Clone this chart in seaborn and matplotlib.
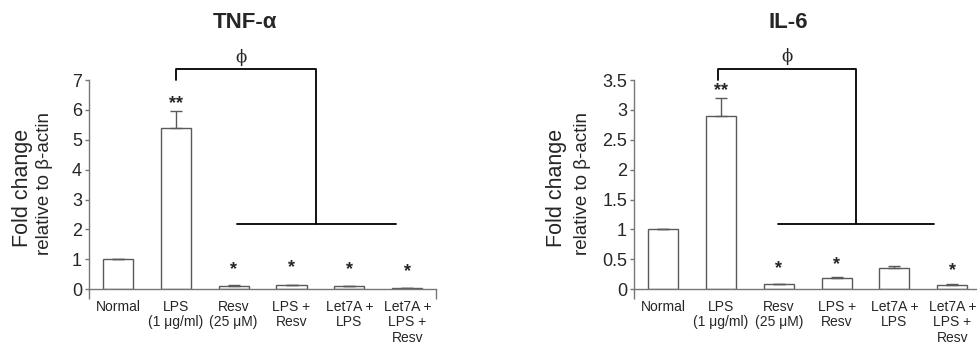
import numpy as np
import pandas as pd
import seaborn as sns
import matplotlib.pyplot as plt

# Data
groups = ['Normal', 'LPS\n(1 μg/ml)', 'Resv\n(25 μM)', 'LPS +\nResv',
          'Let7A +\nLPS', 'Let7A +\nLPS +\nResv']
tnf_mean = [1.0, 5.4, 0.1, 0.15, 0.1, 0.05]
tnf_err = [0.0, 0.55, 0.03, 0.0, 0.0, 0.0]
il6_mean = [1.0, 2.9, 0.08, 0.18, 0.35, 0.07]
il6_err = [0.0, 0.3, 0.0, 0.015, 0.03, 0.01]
tnf_stars = ['', '**', '*', '*', '*', '*']
il6_stars = ['', '**', '*', '*', '', '*']
tnf_star_y = [0, 6.2, 0.66, 0.72, 0.66, 0.6]
il6_star_y = [0, 3.33, 0.34, 0.41, 0, 0.31]

sns.set_style('white')
plt.rcParams['font.family'] = ['Liberation Sans', 'DejaVu Sans']

fig = plt.figure(figsize=(9.78, 3.47), dpi=100)
ax1 = fig.add_axes([0.091, 0.167, 0.355, 0.602])
ax2 = fig.add_axes([0.6483, 0.167, 0.355, 0.602])

edge = '#5a5a5a'


def draw_panel(ax, mean, err, stars, star_y, ymax, yticks, ticklabels):
    df = pd.DataFrame({'group': groups, 'value': mean})
    sns.barplot(data=df, x='group', y='value', color='white', edgecolor=edge,
                linewidth=1.0, width=0.52, errorbar=None, ax=ax)
    # upper error bars only
    x = np.arange(len(groups))
    ax.errorbar(x, mean, yerr=[np.zeros(len(err)), err], fmt='none',
                ecolor=edge, elinewidth=1.0, capsize=4, capthick=1.0)
    for xi, s, sy in zip(x, stars, star_y):
        if s:
            ax.text(xi, sy, s, ha='center', va='center', fontsize=13,
                    fontweight='bold')
    ax.set_xlim(-0.5, 5.5)
    ax.set_ylim(0, ymax)
    ax.set_yticks(yticks)
    ax.set_yticklabels(ticklabels)
    ax.set_xlabel('')
    ax.set_ylabel('')
    for side in ['top', 'right']:
        ax.spines[side].set_visible(False)
    for side in ['left', 'bottom']:
        ax.spines[side].set_color('#777777')
        ax.spines[side].set_linewidth(1.0)
    ax.tick_params(axis='y', direction='out', length=3, width=1,
                   color='#777777', labelsize=13, pad=2, left=True)
    ax.tick_params(axis='x', length=0, labelsize=10, pad=8)
    for lab in ax.get_xticklabels():
        lab.set_linespacing(1.12)
        lab.set_va('top')
    # category end ticks
    ax.set_xticks([-0.5, 5.5], minor=True)
    ax.tick_params(axis='x', which='minor', direction='out', length=7,
                   width=1, color='#777777', bottom=True)


draw_panel(ax1, tnf_mean, tnf_err, tnf_stars, tnf_star_y, 7,
           range(0, 8), [str(v) for v in range(0, 8)])
draw_panel(ax2, il6_mean, il6_err, il6_stars, il6_star_y, 3.5,
           np.arange(0, 3.6, 0.5),
           ['0', '0.5', '1', '1.5', '2', '2.5', '3', '3.5'])

# significance brackets
kw = dict(color='black', linewidth=1.3, clip_on=False)
ax1.plot([1, 1, 3.43, 3.43], [7.0, 7.36, 7.36, 2.17], **kw)
ax1.plot([2.06, 4.81], [2.17, 2.17], **kw)
ax1.text(2.13, 7.76, 'ϕ', ha='center', va='center', fontsize=12,
         family='DejaVu Serif')
ax2.plot([0.95, 0.95, 3.34, 3.34], [3.5, 3.685, 3.685, 1.09], **kw)
ax2.plot([1.98, 4.69], [1.09, 1.09], **kw)
ax2.text(2.15, 3.89, 'ϕ', ha='center', va='center', fontsize=12,
         family='DejaVu Serif')

# titles
fig.text(0.2505, 0.934, 'TNF-α', ha='center', va='center', fontsize=16,
         fontweight='bold')
fig.text(0.806, 0.934, 'IL-6', ha='center', va='center', fontsize=16,
         fontweight='bold')

# y labels
for xf, xr in [(0.0225, 0.046), (0.5695, 0.596)]:
    fig.text(xf, 0.458, 'Fold change', rotation=90, ha='center',
             va='center', fontsize=15.5)
    fig.text(xr, 0.472, 'relative to β-actin', rotation=90, ha='center',
             va='center', fontsize=13.5)

fig.savefig('out.png', dpi=100, facecolor='white')
